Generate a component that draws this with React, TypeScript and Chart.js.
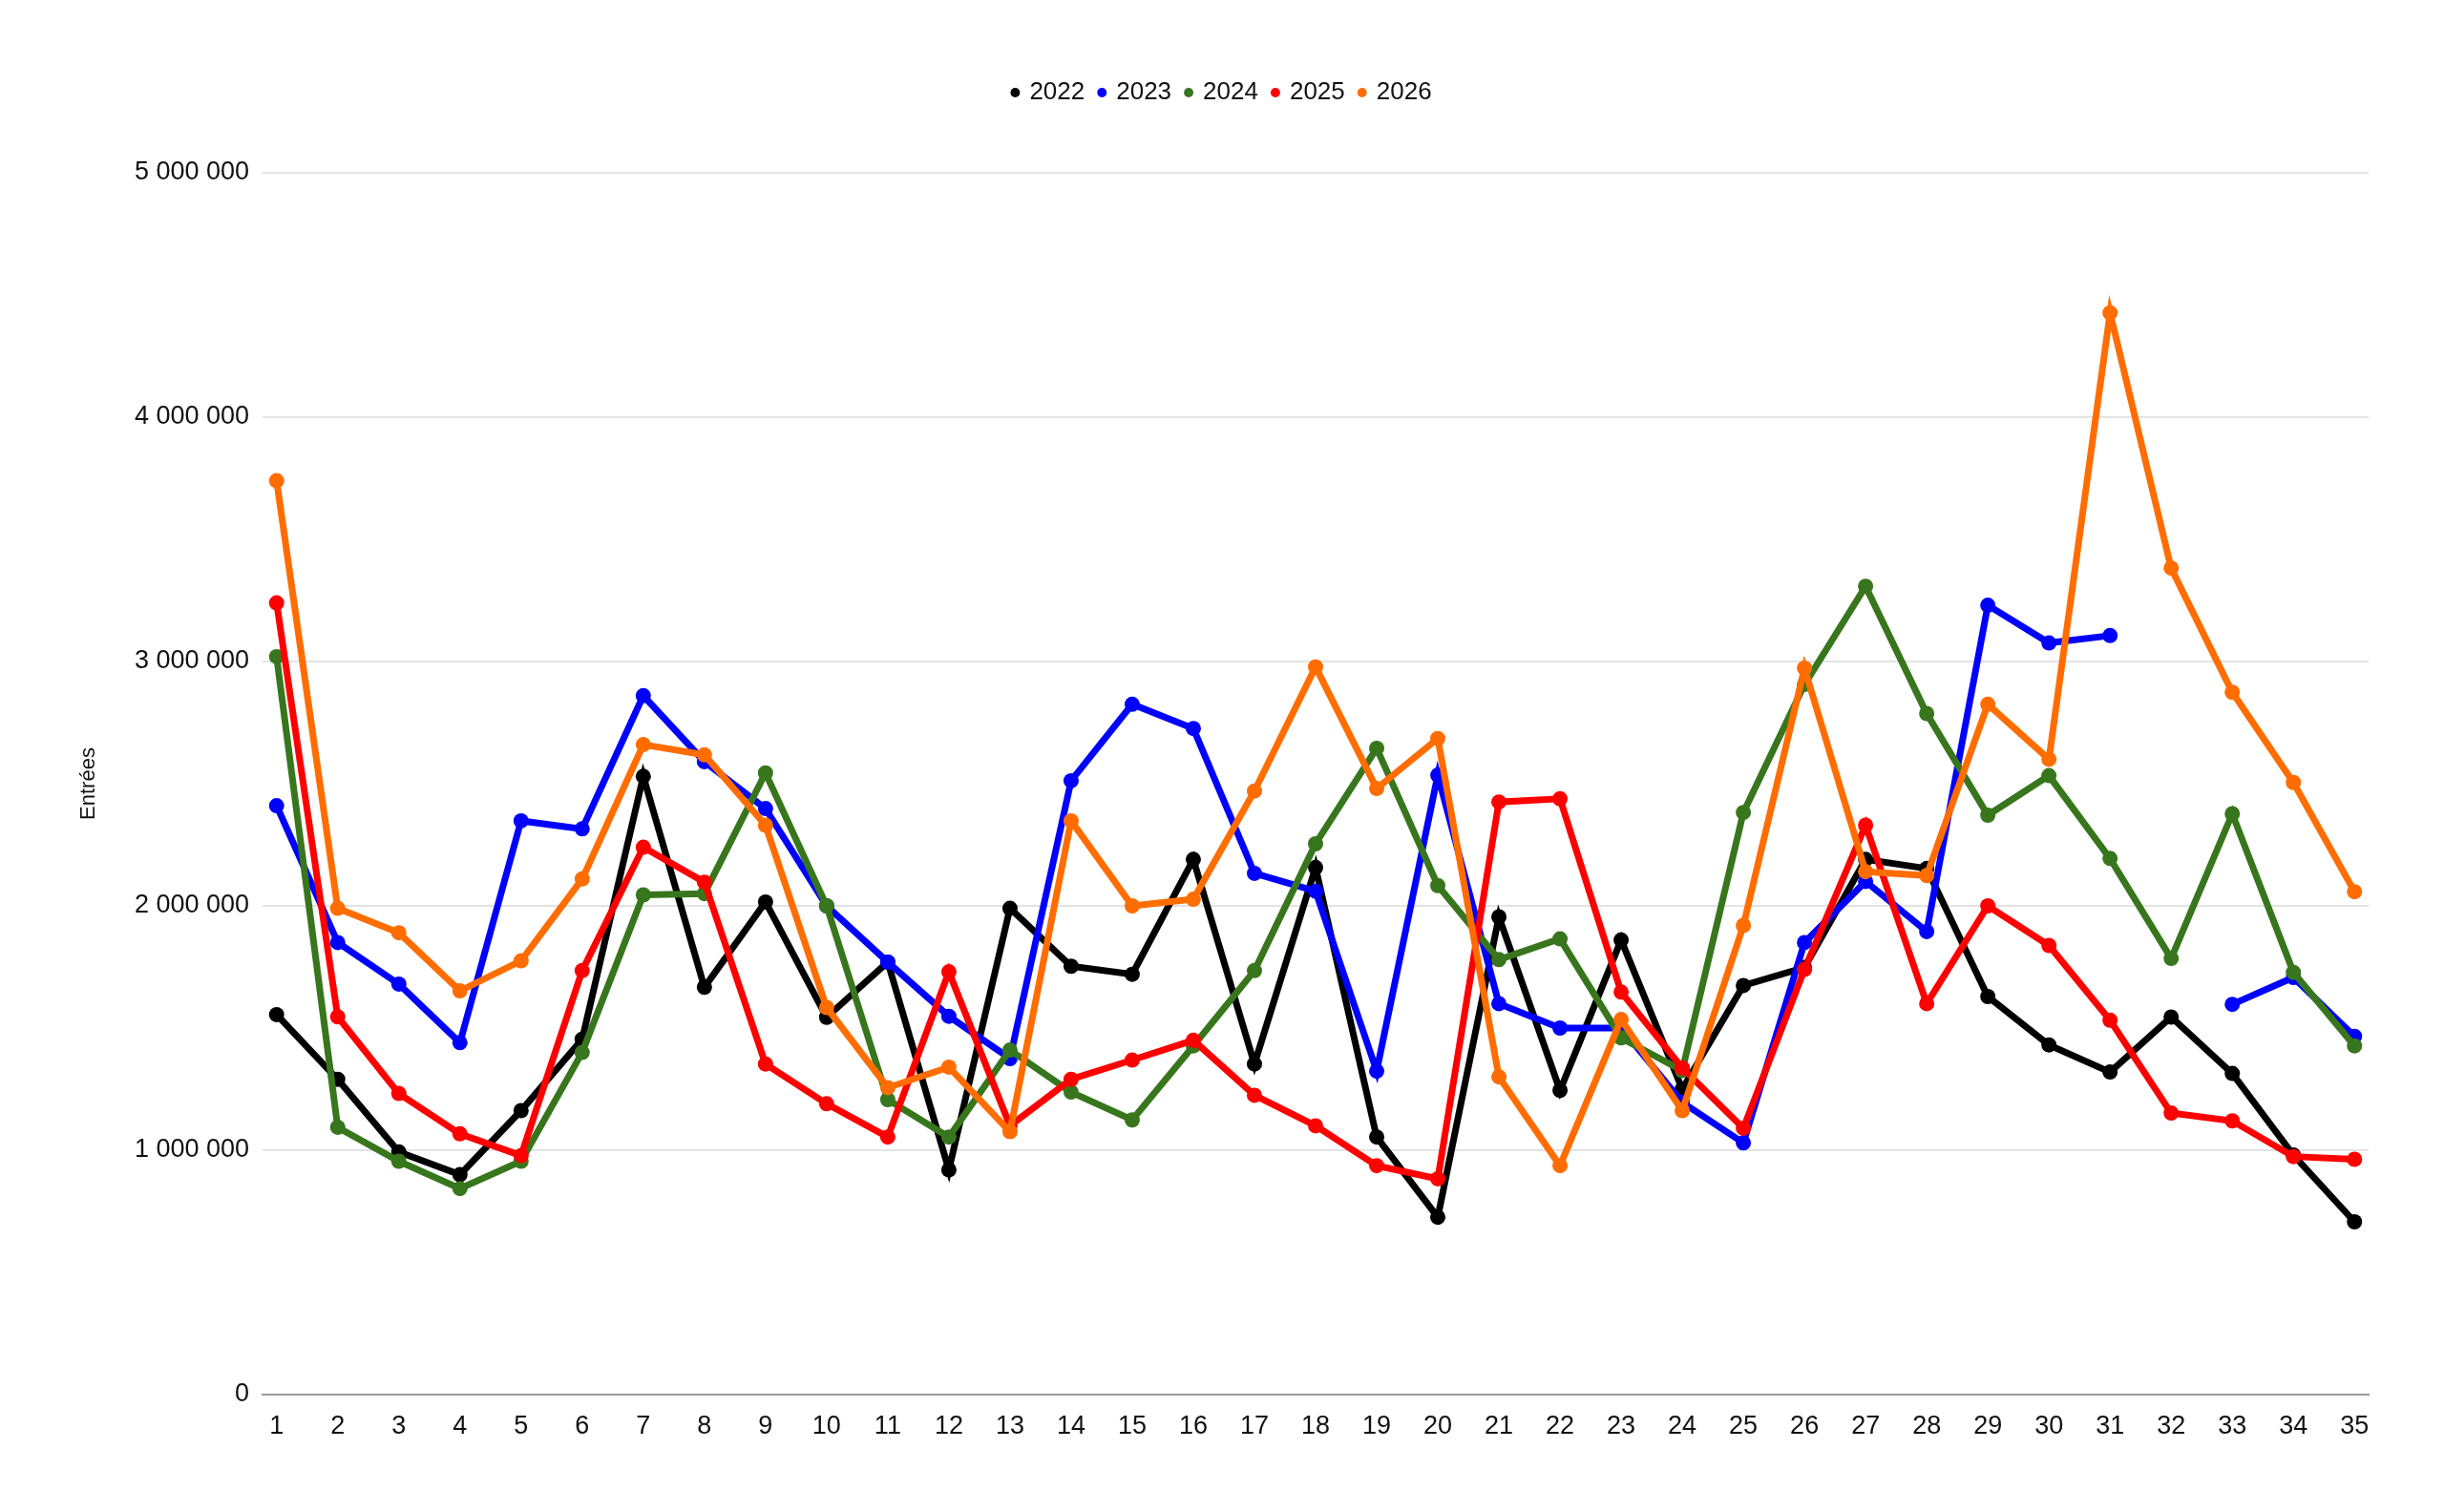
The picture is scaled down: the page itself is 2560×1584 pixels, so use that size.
import React, { useEffect, useRef } from 'react';
import { Chart, registerables } from 'chart.js';

Chart.register(...registerables);

// Weeks 1..35
const weeks = [
  1, 2, 3, 4, 5, 6, 7, 8, 9, 10, 11, 12, 13, 14, 15, 16, 17, 18,
  19, 20, 21, 22, 23, 24, 25, 26, 27, 28, 29, 30, 31, 32, 33, 34, 35,
];

const years = ['2022', '2023', '2024', '2025', '2026'];
const colors = ['#000000', '#0000ff', '#38761d', '#ff0000', '#ff6d01'];

const entries2022 = [
  1555000, 1290000, 993000, 900000, 1162000, 1454000, 2530000, 1667000, 2016000, 1544000,
  1770000, 920000, 1990000, 1753000, 1720000, 2190000, 1353000, 2157000, 1054000, 726000,
  1955000, 1245000, 1860000, 1250000, 1674000, 1748000, 2190000, 2153000, 1629000, 1431000,
  1320000, 1545000, 1314000, 980000, 707000,
];
const entries2023 = [
  2410000, 1850000, 1680000, 1440000, 2348000, 2315000, 2860000, 2590000, 2398000, 2000000,
  1770000, 1548000, 1375000, 2512000, 2825000, 2726000, 2133000, 2060000, 1324000, 2535000,
  1600000, 1500000, 1500000, 1196000, 1030000, 1850000, 2100000, 1895000, 3230000, 3076000,
  3106000, null, 1597000, 1707000, 1466000,
];
const entries2024 = [
  3020000, 1094000, 955000, 843000, 955000, 1400000, 2045000, 2050000, 2544000, 2000000,
  1207000, 1054000, 1410000, 1238000, 1124000, 1427000, 1735000, 2254000, 2645000, 2083000,
  1780000, 1865000, 1460000, 1326000, 2382000, 2906000, 3308000, 2787000, 2371000, 2533000,
  2194000, 1785000, 2377000, 1728000, 1427000,
];
const entries2025 = [
  3240000, 1546000, 1232000, 1067000, 978000, 1735000, 2240000, 2097000, 1353000, 1190000,
  1054000, 1730000, 1100000, 1290000, 1369000, 1450000, 1225000, 1100000, 937000, 883000,
  2425000, 2438000, 1647000, 1337000, 1090000, 1740000, 2330000, 1600000, 2000000, 1838000,
  1532000, 1152000, 1120000, 974000, 963000,
];
const entries2026 = [
  3740000, 1990000, 1890000, 1652000, 1775000, 2110000, 2660000, 2618000, 2330000, 1584000,
  1256000, 1340000, 1076000, 2348000, 2000000, 2027000, 2470000, 2978000, 2480000, 2685000,
  1300000, 937000, 1535000, 1162000, 1920000, 2973000, 2140000, 2124000, 2825000, 2600000,
  4427000, 3382000, 2874000, 2505000, 2058000,
];

const series = [entries2022, entries2023, entries2024, entries2025, entries2026];

const formatThousands = (v: number) =>
  String(Math.round(v)).replace(/\B(?=(\d{3})+(?!\d))/g, ' ');

// push the plot area down below the legend
const legendGap = {
  id: 'legendGap',
  beforeInit(chart: any) {
    const fitFn = chart.legend.fit;
    chart.legend.fit = function fit() {
      fitFn.bind(chart.legend)();
      this.height += 61;
    };
  },
};

const App: React.FC = () => {
  const canvasRef = useRef<HTMLCanvasElement>(null);
  const chartRef = useRef<Chart | null>(null);

  useEffect(() => {
    if (!canvasRef.current) return;
    if (chartRef.current) chartRef.current.destroy();

    Chart.defaults.font.family = '"Liberation Sans", Arial, sans-serif';
    Chart.defaults.color = '#111111';

    const ctx = canvasRef.current.getContext('2d');
    if (!ctx) return;

    chartRef.current = new Chart(ctx, {
      type: 'line',
      data: {
        datasets: years.map((year, i) => ({
          label: year,
          data: weeks.map((w, j) => ({ x: w, y: series[i][j] })),
          borderColor: colors[i],
          backgroundColor: colors[i],
          pointBackgroundColor: colors[i],
          pointBorderColor: colors[i],
          borderWidth: 7,
          pointRadius: 8,
          pointBorderWidth: 0,
          tension: 0,
          spanGaps: false,
          order: years.length - i,
        })),
      },
      options: {
        animation: false,
        responsive: true,
        maintainAspectRatio: false,
        layout: {
          padding: { top: 68, left: 80, right: 79, bottom: 0 },
        },
        scales: {
          x: {
            type: 'linear',
            min: 0.77,
            max: 35.23,
            grid: { display: false },
            border: { display: true, color: '#9a9a9a', width: 2 },
            ticks: {
              stepSize: 1,
              autoSkip: false,
              includeBounds: false,
              maxRotation: 0,
              padding: 9,
              color: '#111111',
              font: { size: 27 },
              callback: (v: any) => String(v),
            },
            afterFit: (scale: any) => {
              scale.height = 123;
            },
          },
          y: {
            min: 0,
            max: 5000000,
            grid: { color: '#e3e3e3', lineWidth: 2, drawTicks: false },
            border: { display: false },
            ticks: {
              stepSize: 1000000,
              padding: 14,
              color: '#111111',
              font: { size: 27 },
              callback: (v: any) => formatThousands(Number(v)),
            },
            title: {
              display: true,
              text: 'Entrées',
              color: '#111111',
              font: { size: 22 },
              padding: { top: 0, bottom: 0 },
            },
            afterFit: (scale: any) => {
              scale.width = 195;
            },
          },
        },
        plugins: {
          legend: {
            position: 'top',
            labels: {
              usePointStyle: true,
              pointStyle: 'circle',
              boxWidth: 4,
              boxHeight: 7,
              padding: 16,
              color: '#111111',
              font: { size: 26 },
              sort: (a: any, b: any) => a.datasetIndex - b.datasetIndex,
            },
          },
          tooltip: { enabled: false },
        },
      },
      plugins: [legendGap],
    });

    return () => {
      if (chartRef.current) {
        chartRef.current.destroy();
        chartRef.current = null;
      }
    };
  }, []);

  return (
    <div
      style={{
        position: 'fixed',
        left: 0,
        top: 0,
        width: '100vw',
        height: '100vh',
        background: '#ffffff',
      }}
    >
      <canvas ref={canvasRef}></canvas>
    </div>
  );
};

export default App;
